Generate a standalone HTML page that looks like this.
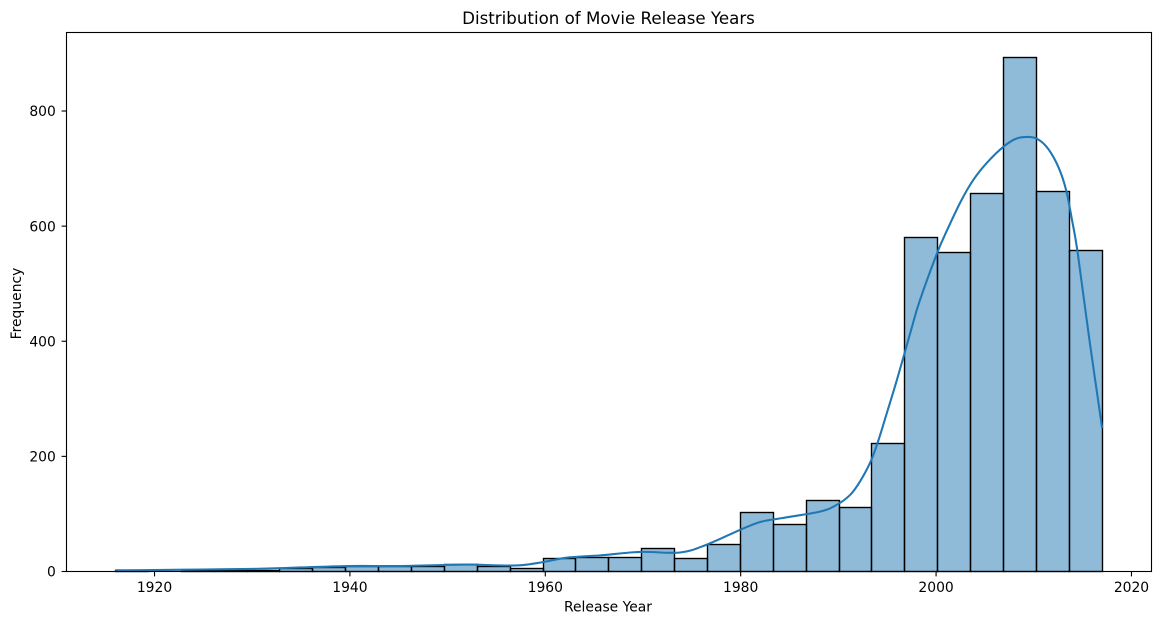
<!DOCTYPE html>
<html lang="en">
<head>
<meta charset="utf-8">
<title>Distribution of Movie Release Years</title>
<style>
html,body{margin:0;padding:0;background:#fff;width:1160px;height:624px;overflow:hidden}
svg{display:block}
text{font-family:"DejaVu Sans","Liberation Sans",sans-serif;fill:#000}
</style>
</head>
<body>
<svg id="chart" xmlns="http://www.w3.org/2000/svg" width="1160" height="624" viewBox="0 0 1160 624">
  <rect x="0" y="0" width="1160" height="624" fill="#fff"/>
  <g id="bars"></g>
  <path id="kde" fill="none" stroke="#1f77b4" stroke-width="2.08" stroke-linejoin="round"/>
  <g id="xticks"></g>
  <g id="yticks"></g>
  <rect x="66.5" y="32.5" width="1085" height="539" fill="none" stroke="#000" stroke-width="1.11"/>
  <text x="608.5" y="24" font-size="16.67" text-anchor="middle">Distribution of Movie Release Years</text>
  <text x="608" y="611.5" font-size="13.89" text-anchor="middle">Release Year</text>
  <text transform="translate(21 303.5) rotate(-90)" font-size="13.89" text-anchor="middle">Frequency</text>
</svg>
<script>
const binStart = 1916;
const binEnd = 2017;
const binCounts = [1,0,1,1,2,6,7,8,8,8,12,8,6,22,24,24,40,22,47,102,82,124,111,223,580,555,657,893,660,557];
const kdeYears = [1916,1920,1925,1930,1935,1940,1945,1950.2,1952.3,1957.1,1959.8,1962.2,1965.6,1969.7,1973.8,1976.5,1979.9,1982,1984.3,1988.1,1989.8,1991.2,1992.2,1993.3,1994.1,1994.9,1995.8,1996.6,1997.5,1998.3,2000.1,2001.1,2002.5,2003.8,2005.2,2006.9,2008.2,2009.4,2010.3,2011.3,2012.2,2012.9,2013.4,2013.9,2014.5,2015.7,2017];
const kdeValues = [2,2.5,3.5,4.5,7,9.5,9.5,11.5,12,10.5,16.5,24,28,34,33,46.5,72,86,93,104,115.5,133,156,191,228,272,322,369,423,469,553,592,642,680,710,738,752,755,752,738,714,686,656,612,553,402,249];
const xTickLabels = [1920,1940,1960,1980,2000,2020];
const yTickLabels = [0,200,400,600,800];

const SVG_NS = 'http://www.w3.org/2000/svg';
const xDomain = [1910.99, 2022.05];
const yDomain = [0, 936.4];
const xRange = [66.5, 1151.5];
const yRange = [571.5, 32.5];
function xScale(v){return xRange[0] + (v - xDomain[0]) / (xDomain[1] - xDomain[0]) * (xRange[1] - xRange[0]);}
function yScale(v){return yRange[0] + (v - yDomain[0]) / (yDomain[1] - yDomain[0]) * (yRange[1] - yRange[0]);}
function snap(p){return Math.floor(p) + 0.5;}
function make(tag, attrs){
  const el = document.createElementNS(SVG_NS, tag);
  for (const k in attrs) el.setAttribute(k, attrs[k]);
  return el;
}

const barsGroup = document.getElementById('bars');
const binWidth = (binEnd - binStart) / binCounts.length;
binCounts.forEach(function(count, i){
  const x0 = snap(xScale(binStart + i * binWidth));
  const x1 = snap(xScale(binStart + (i + 1) * binWidth));
  const top = snap(yScale(count));
  const rect = make('rect', {x: x0, y: top, width: x1 - x0, height: snap(yScale(0)) - top, fill: 'rgba(31,119,180,0.5)', stroke: '#000', 'stroke-width': 1.39});
  
  
  barsGroup.appendChild(rect);
});

const pts = kdeYears.map(function(y, i){return [xScale(y), yScale(kdeValues[i])];});
let d = 'M' + pts[0][0] + ' ' + pts[0][1];
for (let i = 0; i < pts.length - 1; i++) {
  const p0 = pts[Math.max(i - 1, 0)], p1 = pts[i], p2 = pts[i + 1], p3 = pts[Math.min(i + 2, pts.length - 1)];
  const c1x = p1[0] + (p2[0] - p0[0]) / 6, c1y = p1[1] + (p2[1] - p0[1]) / 6;
  const c2x = p2[0] - (p3[0] - p1[0]) / 6, c2y = p2[1] - (p3[1] - p1[1]) / 6;
  d += ' C' + c1x + ' ' + c1y + ' ' + c2x + ' ' + c2y + ' ' + p2[0] + ' ' + p2[1];
}
document.getElementById('kde').setAttribute('d', d);

const xTicksGroup = document.getElementById('xticks');
xTickLabels.forEach(function(v){
  const x = xScale(v);
  const tick = make('line', {x1: x, x2: x, y1: 571.5, y2: 576.4, stroke: '#000', 'stroke-width': 1.11});
  
  
  xTicksGroup.appendChild(tick);
  const label = make('text', {x: x, y: 592, 'font-size': 13.89, 'text-anchor': 'middle'});
  
  
  label.textContent = v;
  xTicksGroup.appendChild(label);
});

const yTicksGroup = document.getElementById('yticks');
yTickLabels.forEach(function(v){
  const y = yScale(v);
  const tick = make('line', {x1: 61.6, x2: 66.5, y1: y, y2: y, stroke: '#000', 'stroke-width': 1.11});
  
  
  yTicksGroup.appendChild(tick);
  const label = make('text', {x: 55.8, y: y + 5.2, 'font-size': 13.89, 'text-anchor': 'end'});
  
  
  label.textContent = v;
  yTicksGroup.appendChild(label);
});
</script>
</body>
</html>
